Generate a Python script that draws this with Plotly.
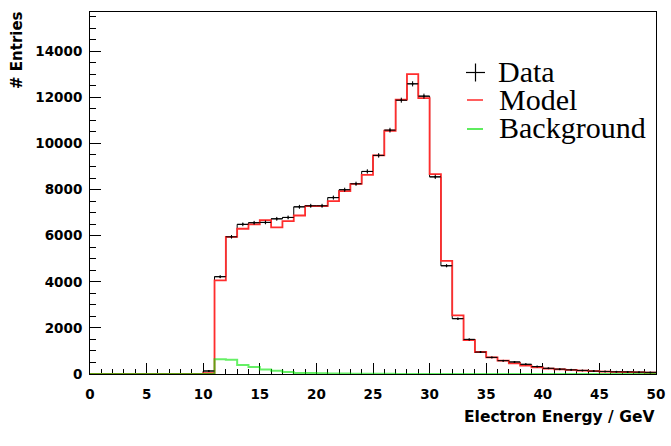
import numpy as np
import plotly.graph_objects as go

# Bin edges: 50 bins of 1 GeV from 0 to 50
bin_edges = list(range(0, 51))

data_counts = [0, 0, 0, 0, 0, 0, 0, 0, 0, 0,
               130, 4220, 5950, 6490, 6560, 6575, 6730, 6790, 7250, 7295,
               7295, 7650, 7990, 8250, 8785, 9480, 10575, 11875, 12585, 12050,
               8550, 4695, 2400, 1500, 950, 720, 580, 520, 420, 320,
               245, 210, 180, 155, 125, 110, 95, 90, 80, 70]

model_counts = [0, 0, 0, 0, 0, 0, 0, 0, 0, 0,
                40, 4060, 5950, 6300, 6490, 6675, 6355, 6630, 6875, 7280,
                7280, 7500, 7930, 8250, 8640, 9480, 10550, 11900, 13005, 11965,
                8670, 4910, 2545, 1475, 955, 720, 580, 460, 360, 290,
                230, 200, 175, 145, 125, 100, 90, 85, 70, 55]

background_counts = [0, 0, 0, 0, 0, 0, 0, 0, 0, 0,
                     0, 635, 620, 390, 300, 190, 145, 85, 45, 40,
                     30, 25, 20, 15, 10, 8, 6, 5, 4, 3,
                     3, 2, 2, 1, 1, 1, 1, 1, 1, 1,
                     0, 0, 0, 0, 0, 0, 0, 0, 0, 0]

legend_labels = ["Data", "Model", "Background"]
x_title = "Electron Energy / GeV"
y_title = "# Entries"

RED = "rgb(255,45,45)"
GREEN = "rgba(0,230,0,0.6)"


def step(vals):
    return bin_edges, list(vals) + [vals[-1]]


centers = [(bin_edges[i] + bin_edges[i + 1]) / 2 for i in range(len(data_counts))]
half_w = [(bin_edges[i + 1] - bin_edges[i]) / 2 for i in range(len(data_counts))]

fig = go.Figure()

sx, sy = step(data_counts)
fig.add_trace(go.Scatter(x=sx, y=sy, mode="lines", line=dict(color="black", width=1, shape="hv"),
                         hoverinfo="skip", showlegend=False))
sx, sy = step(model_counts)
fig.add_trace(go.Scatter(x=sx, y=sy, mode="lines", line=dict(color=RED, width=1.8, shape="hv"),
                         name=legend_labels[1], showlegend=False))
sx, sy = step(background_counts)
fig.add_trace(go.Scatter(x=sx, y=sy, mode="lines", line=dict(color=GREEN, width=2, shape="hv"),
                         name=legend_labels[2], showlegend=False))

mask = [i for i, v in enumerate(data_counts) if v > 0]
fig.add_trace(go.Scatter(
    x=[centers[i] for i in mask], y=[data_counts[i] for i in mask], mode="markers",
    marker=dict(color="black", size=2),
    error_x=dict(type="data", array=[half_w[i] for i in mask], color="black", thickness=1, width=0),
    error_y=dict(type="data", array=[float(np.sqrt(data_counts[i])) for i in mask], color="black",
                 thickness=1, width=0),
    name=legend_labels[0], showlegend=False))

tickfont = dict(family="DejaVu Sans", size=13.5, color="black", weight="bold")

fig.update_xaxes(range=[0, 50], dtick=5, tick0=0, ticks="inside", ticklen=11, tickwidth=1,
                 tickcolor="black", showline=True, linecolor="black", linewidth=1, mirror=True,
                 showgrid=False, zeroline=False, tickfont=tickfont, layer="below traces",
                 automargin=False, ticklabelstandoff=8,
                 minor=dict(ticks="inside", ticklen=5.5, dtick=1, tick0=0, tickcolor="black",
                            showgrid=False))
fig.update_yaxes(range=[0, 15700], dtick=2000, tick0=0, ticks="inside", ticklen=11, tickwidth=1,
                 tickcolor="black", showline=True, linecolor="black", linewidth=1, mirror=True,
                 showgrid=False, zeroline=False, tickfont=tickfont, ticklabelstandoff=4,
                 automargin=False, tickformat="d",
                 minor=dict(ticks="inside", ticklen=5.5, dtick=500, tick0=0, tickcolor="black",
                            showgrid=False))

L, R, T, B = 90, 656, 12, 374
W, H = 671, 446


def px(xp):
    return (xp - L) / (R - L)


def py(yp):
    return (B - yp) / (B - T)


annotations = [
    dict(text=x_title, x=1.0, xanchor="right", y=py(417), yanchor="middle", xref="paper", yref="paper",
         showarrow=False, font=dict(family="DejaVu Sans", size=15.5, color="black", weight="bold")),
    dict(text=y_title, x=px(17), xanchor="center", y=py(50), yanchor="middle", xref="paper", yref="paper",
         textangle=-90, showarrow=False,
         font=dict(family="DejaVu Sans", size=15, color="black", weight="bold")),
]
legend_x = [496, 497, 497]
legend_y = [71, 99, 127]
for lab, xx, yy in zip(legend_labels, legend_x, legend_y):
    annotations.append(dict(text=lab, x=px(xx), xanchor="left", y=py(yy), yanchor="middle",
                            xref="paper", yref="paper", showarrow=False,
                            font=dict(family="Liberation Serif", size=30, color="black")))

shapes = [
    dict(type="line", xref="paper", yref="paper", x0=px(466), x1=px(485), y0=py(72.5), y1=py(72.5),
         line=dict(color="black", width=1.2)),
    dict(type="line", xref="paper", yref="paper", x0=px(475.5), x1=px(475.5), y0=py(63.5), y1=py(81.5),
         line=dict(color="black", width=1.2)),
    dict(type="line", xref="paper", yref="paper", x0=px(467), x1=px(483), y0=py(100), y1=py(100),
         line=dict(color="rgb(255,40,40)", width=1.5)),
    dict(type="line", xref="paper", yref="paper", x0=px(467), x1=px(483), y0=py(129), y1=py(129),
         line=dict(color="rgb(40,230,40)", width=1.5)),
]

fig.update_layout(width=W, height=H, margin=dict(l=L, r=W - R, t=T, b=H - B, pad=0, autoexpand=False),
                  paper_bgcolor="white", plot_bgcolor="white", showlegend=False,
                  annotations=annotations, shapes=shapes)

fig.write_html("out.html")
